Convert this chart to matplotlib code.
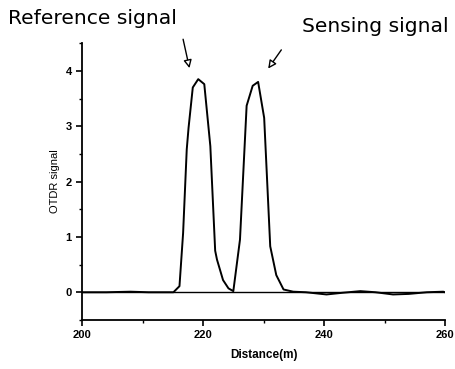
import matplotlib
matplotlib.use("Agg")
import matplotlib.pyplot as plt
from matplotlib.ticker import MultipleLocator

plt.rcParams['font.family'] = ['Liberation Sans', 'DejaVu Sans']

# OTDR trace (distance in m, signal in a.u.)
distance = [200, 204, 208, 211, 215.1, 216.1, 216.7, 217.3, 217.6, 218.3, 219.2, 220.2,
            221.2, 222.0, 222.3, 223.3, 224.2, 225.0, 226.1, 227.2, 228.2, 229.1,
            230.1, 231.1, 232.1, 233.3, 234.9, 237, 240.4, 243, 246, 248.5,
            251.4, 254, 257, 259.7, 260]
signal = [0.0, 0.0, 0.01, 0.0, 0.0, 0.11, 1.07, 2.58, 2.97, 3.70, 3.85, 3.76,
          2.64, 0.75, 0.59, 0.22, 0.07, 0.02, 0.95, 3.37, 3.73, 3.80,
          3.15, 0.83, 0.31, 0.05, 0.01, 0.0, -0.04, -0.01, 0.02, 0.0,
          -0.04, -0.03, 0.0, 0.01, 0.0]

labels = ["Reference signal", "Sensing signal"]
arrow_tips = [(217.85, 4.0), (230.5, 4.0)]
arrow_tails = [(216.6, 4.62), (233.2, 4.42)]

fig = plt.figure(figsize=(4.56, 3.69), dpi=100)
ax = fig.add_axes([0.180, 0.133, 0.796, 0.750])

ax.axhline(0, color='black', lw=1.0)
ax.plot(distance, signal, color='black', lw=1.4)

ax.set_xlim(200, 260)
ax.set_ylim(-0.5, 4.5)
ax.xaxis.set_major_locator(MultipleLocator(20))
ax.xaxis.set_minor_locator(MultipleLocator(10))
ax.yaxis.set_major_locator(MultipleLocator(1))
ax.yaxis.set_minor_locator(MultipleLocator(0.5))
ax.tick_params(which='major', direction='out', length=4, width=1.2, labelsize=8)
ax.tick_params(which='minor', direction='out', length=2, width=1.0)
for lab in ax.get_xticklabels() + ax.get_yticklabels():
    lab.set_fontweight('bold')

for side in ['top', 'right']:
    ax.spines[side].set_visible(False)
for side in ['left', 'bottom']:
    ax.spines[side].set_linewidth(1.3)

ax.set_xlabel('Distance(m)', fontsize=8.5, fontweight='bold', labelpad=6)
ax.set_ylabel('OTDR signal', fontsize=8, labelpad=4)

for tip, tail in zip(arrow_tips, arrow_tails):
    ax.annotate('', xy=tip, xytext=tail, annotation_clip=False,
                arrowprops=dict(arrowstyle='-|>', color='black', fc='white',
                                lw=1.0, mutation_scale=12))

fig.text(8 / 456, 1 - 19 / 369, labels[0], fontsize=14.6, family='DejaVu Sans',
         va='center', ha='left')
fig.text(302 / 456, 1 - 27 / 369, labels[1], fontsize=14.6, family='DejaVu Sans',
         va='center', ha='left')

fig.savefig('out.png', dpi=100)
